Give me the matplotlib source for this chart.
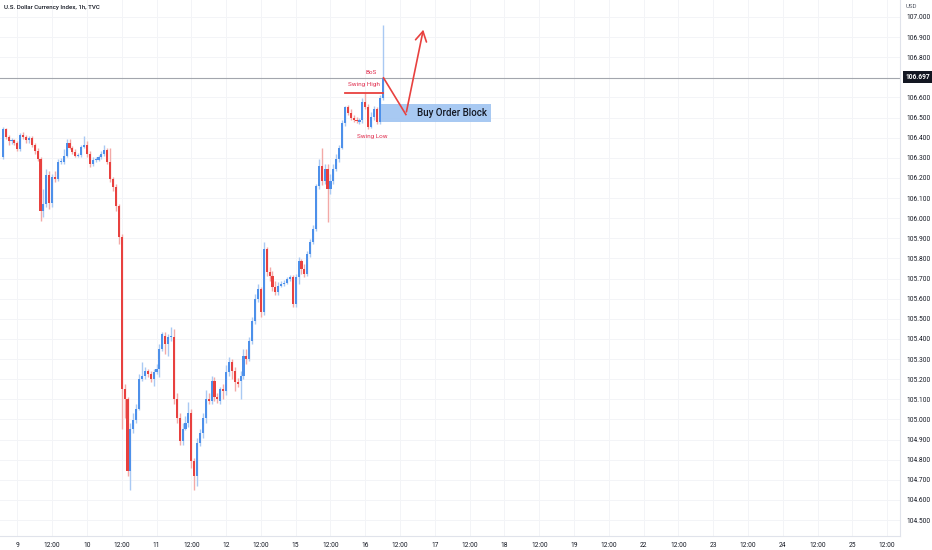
import numpy as np
import matplotlib
matplotlib.use("Agg")
import matplotlib.pyplot as plt
from matplotlib.patches import Rectangle

# hourly DXY candles, first bar is 5 hours before day "9" 00:00
opens = [106.302, 106.441, 106.401, 106.381, 106.386, 106.376, 106.342, 106.411, 106.401, 106.386,
         106.396, 106.366, 106.332, 106.292, 106.035, 106.069, 106.213, 106.074, 106.203, 106.193,
         106.277,
         106.277, 106.307, 106.376, 106.351, 106.327, 106.307, 106.312, 106.356, 106.366, 106.317,
         106.267, 106.287,
         106.287, 106.302, 106.317, 106.337, 106.277, 106.193, 106.153, 106.059, 105.906,
         105.153, 105.104, 104.743, 104.955, 104.995, 105.054, 105.203, 105.218, 105.243, 105.228,
         105.203, 105.238, 105.252, 105.351, 105.416, 105.376, 105.411, 105.411, 105.104, 105.005,
         104.891, 104.955, 104.980, 105.030, 104.792, 104.718, 104.881, 104.931, 105.005, 105.104,
         105.094, 105.193, 105.114, 105.094, 105.153, 105.139, 105.238, 105.287, 105.243,
         105.188, 105.193, 105.218, 105.317, 105.302, 105.391, 105.490, 105.599, 105.649,
         105.535, 105.847, 105.733, 105.713, 105.658, 105.634, 105.663, 105.673, 105.678, 105.698,
         105.708, 105.574, 105.708, 105.787, 105.748, 105.723, 105.822, 105.881, 105.946, 106.158,
         106.257, 106.183, 106.243, 106.144, 106.183, 106.243, 106.292, 106.351, 106.475, 106.550,
         106.525, 106.500, 106.490, 106.480, 106.490, 106.579, 106.554, 106.455, 106.505, 106.540,
         106.480, 106.599]
highs = [106.455, 106.450, 106.411, 106.396, 106.391, 106.381, 106.421, 106.426, 106.411, 106.406,
         106.406, 106.376, 106.351, 106.302, 106.144, 106.243, 106.233, 106.218, 106.233, 106.292,
         106.297,
         106.342, 106.391, 106.391, 106.361, 106.342, 106.322, 106.366, 106.406, 106.381, 106.332,
         106.302, 106.302,
         106.312, 106.332, 106.366, 106.351, 106.351, 106.203, 106.168, 106.069, 105.921,
         105.178, 105.114, 104.980, 105.030, 105.079, 105.228, 105.287, 105.262, 105.252, 105.243,
         105.252, 105.277, 105.376, 105.436, 105.436, 105.426, 105.460, 105.450, 105.129, 105.030,
         104.980, 105.015, 105.089, 105.054, 104.807, 104.906, 104.955, 105.030, 105.144, 105.129,
         105.218, 105.213, 105.129, 105.163, 105.178, 105.272, 105.312, 105.302, 105.262,
         105.208, 105.243, 105.351, 105.351, 105.411, 105.510, 105.624, 105.673, 105.658,
         105.881, 105.856, 105.757, 105.738, 105.688, 105.683, 105.688, 105.693, 105.708, 105.718,
         105.718, 105.723, 105.807, 105.797, 105.772, 105.837, 105.896, 105.965, 106.168, 106.292,
         106.351, 106.267, 106.267, 106.218, 106.267, 106.317, 106.366, 106.490, 106.559, 106.564,
         106.540, 106.515, 106.505, 106.500, 106.599, 106.624, 106.569, 106.530, 106.559, 106.554,
         106.614, 106.960]
lows = [106.292, 106.391, 106.366, 106.371, 106.366, 106.332, 106.332, 106.391, 106.376, 106.376,
        106.356, 106.317, 106.282, 105.985, 106.005, 106.054, 106.045, 106.054, 106.178, 106.183,
        106.267,
        106.267, 106.302, 106.342, 106.317, 106.302, 106.302, 106.302, 106.347, 106.302, 106.252,
        106.257, 106.277,
        106.282, 106.292, 106.307, 106.267, 106.178, 106.134, 106.035, 105.871, 104.955,
        105.005, 104.718, 104.649, 104.931, 104.980, 105.045, 105.193, 105.203, 105.213, 105.188,
        105.168, 105.228, 105.213, 105.342, 105.327, 105.317, 105.391, 105.079, 104.980, 104.871,
        104.871, 104.946, 104.965, 104.757, 104.649, 104.668, 104.866, 104.906, 104.980, 105.079,
        105.079, 105.094, 105.084, 105.079, 105.104, 105.124, 105.218, 105.203, 105.139,
        105.163, 105.104, 105.203, 105.277, 105.292, 105.376, 105.475, 105.584, 105.510,
        105.520, 105.713, 105.688, 105.639, 105.619, 105.619, 105.658, 105.663, 105.673, 105.688,
        105.559, 105.559, 105.673, 105.723, 105.708, 105.713, 105.807, 105.871, 105.936, 106.144,
        106.163, 106.168, 105.980, 106.119, 106.168, 106.233, 106.277, 106.342, 106.460, 106.515,
        106.490, 106.480, 106.475, 106.470, 106.475, 106.540, 106.441, 106.446, 106.490, 106.470,
        106.470, 106.589]
closes = [106.441, 106.401, 106.381, 106.386, 106.376, 106.342, 106.411, 106.401, 106.386, 106.396,
          106.366, 106.332, 106.292, 106.035, 106.069, 106.213, 106.074, 106.203, 106.193, 106.277,
          106.282,
          106.307, 106.376, 106.351, 106.327, 106.307, 106.312, 106.356, 106.366, 106.317, 106.267,
          106.287, 106.292,
          106.302, 106.317, 106.337, 106.277, 106.193, 106.153, 106.059, 105.906, 105.153,
          105.104, 104.743, 104.955, 104.995, 105.054, 105.203, 105.218, 105.243, 105.228, 105.203,
          105.238, 105.252, 105.351, 105.426, 105.376, 105.411, 105.416, 105.104, 105.005, 104.891,
          104.955, 104.980, 105.030, 104.792, 104.718, 104.881, 104.931, 105.005, 105.104, 105.094,
          105.193, 105.114, 105.104, 105.153, 105.139, 105.238, 105.287, 105.243, 105.188,
          105.178, 105.218, 105.317, 105.302, 105.391, 105.490, 105.599, 105.649, 105.535,
          105.847, 105.733, 105.713, 105.658, 105.634, 105.663, 105.673, 105.678, 105.698, 105.708,
          105.574, 105.708, 105.787, 105.748, 105.723, 105.822, 105.881, 105.946, 106.158, 106.257,
          106.183, 106.243, 106.144, 106.183, 106.243, 106.292, 106.351, 106.475, 106.550, 106.525,
          106.500, 106.490, 106.485, 106.490, 106.579, 106.554, 106.455, 106.505, 106.540, 106.480,
          106.599, 106.697]

last_price = 106.697
swing_high = 106.624
block_top = 106.569
block_bottom = 106.480

# time axis labels (hours from day 9 00:00)
tick_hours = [0, 12, 24, 36, 48, 60, 72, 84, 96, 108, 120, 132, 144, 156, 168, 180,
              192, 204, 216, 228, 240, 252, 264, 276, 288, 300]
tick_labels = ["9", "12:00", "10", "12:00", "11", "12:00", "12", "12:00", "15", "12:00",
               "16", "12:00", "17", "12:00", "18", "12:00", "19", "12:00", "22", "12:00",
               "23", "12:00", "24", "12:00", "25", "12:00"]
price_ticks = [104.5, 104.6, 104.7, 104.8, 104.9, 105.0, 105.1, 105.2, 105.3, 105.4, 105.5,
               105.6, 105.7, 105.8, 105.9, 106.0, 106.1, 106.2, 106.3, 106.4, 106.5, 106.6,
               106.8, 106.9, 107.0]

UP = "#4d90ea"
DOWN = "#e8413f"
UP_WICK = "#a9c9f3"
DOWN_WICK = "#f3a9a7"
TXT = "#131722"

plt.rcParams['font.family'] = ['Roboto', 'DejaVu Sans']

fig = plt.figure(figsize=(9.32, 5.5), dpi=100)
ax = fig.add_axes([0, 14/550, 900/932, 536/550])

o = np.array(opens); h = np.array(highs); l = np.array(lows); c = np.array(closes)
x = np.arange(len(c)) - 5
up = c >= o

ax.vlines(x[up], l[up], h[up], color=UP_WICK, lw=1, zorder=2)
ax.vlines(x[~up], l[~up], h[~up], color=DOWN_WICK, lw=1, zorder=2)
body = np.maximum(np.abs(c - o), 0.004)
ax.bar(x[up], body[up], bottom=np.minimum(o, c)[up], width=0.75, color=UP, lw=0, zorder=3)
ax.bar(x[~up], body[~up], bottom=np.minimum(o, c)[~up], width=0.75, color=DOWN, lw=0, zorder=3)

# current price line
ax.axhline(last_price, color="#a3a6ad", lw=0.8, zorder=1)

# order block
ax.add_patch(Rectangle((125.5, block_bottom), 38, block_top - block_bottom,
                       facecolor="#9fc4f1", edgecolor="none", alpha=0.9, zorder=1))
ax.text(150, (block_top + block_bottom) / 2, "Buy Order Block", ha="center", va="center",
        fontsize=7, fontweight="medium", color=TXT, zorder=5)

# swing high / BoS
ax.plot([113, 126], [swing_high, swing_high], color=DOWN, lw=1.3, zorder=4)
ax.text(119.5, 106.665, "Swing High", color="#e03050", fontsize=4.6, ha="center", va="center")
ax.text(122, 106.722, "BoS", color="#e03050", fontsize=4.6, ha="center", va="center")
ax.text(122.5, 106.405, "Swing Low", color="#e03050", fontsize=4.6, ha="center", va="center")

# projected move
ax.plot([126.3, 134.0], [last_price, 106.515], color=DOWN, lw=1.2, zorder=4)
ax.annotate("", xy=(140.2, 106.95), xytext=(134.0, 106.515),
            arrowprops=dict(arrowstyle="->,head_length=0.7,head_width=0.4", color=DOWN, lw=1.2),
            zorder=4)

ax.set_xlim(-5.97, 304.4)
ax.set_ylim(104.421, 107.084)

ax.set_xticks(tick_hours)
ax.set_xticklabels(tick_labels)
ax.set_yticks(price_ticks)
ax.yaxis.set_major_formatter(matplotlib.ticker.FormatStrFormatter("%.3f"))
ax.yaxis.tick_right()
ax.tick_params(axis="both", length=0, labelsize=4.8, labelcolor=TXT)
ax.tick_params(axis="y", pad=4.5)
ax.tick_params(axis="x", pad=4)
ax.grid(True, color="#f3f4f7", lw=0.7, zorder=0)
ax.set_axisbelow(True)
for s in ["top", "left"]:
    ax.spines[s].set_visible(False)
ax.spines["right"].set_color("#e0e3eb")
ax.spines["bottom"].set_color("#e0e3eb")
ax.spines["right"].set_linewidth(0.8)
ax.spines["bottom"].set_linewidth(0.8)

fig.text(4/932, 1 - 8/550, "U.S. Dollar Currency Index, 1h, TVC", fontsize=4.4,
         fontweight="medium", color=TXT, va="center", ha="left")
fig.text(906/932, 1 - 6/550, "USD", fontsize=4.4, color="#555a66", va="center", ha="left")
fig.text(905/932, 1 - 77/550, "106.697", fontsize=4.8, color="white", va="center", ha="left",
         fontweight="bold",
         bbox=dict(boxstyle="square,pad=0.3", facecolor="#131722", edgecolor="none"))

fig.savefig("out.png", dpi=100, facecolor="white")
